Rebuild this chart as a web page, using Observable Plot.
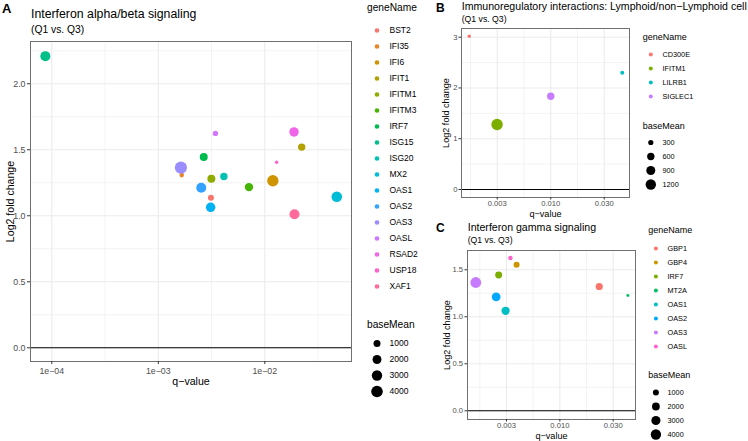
<!DOCTYPE html>
<html><head><meta charset="utf-8">
<script src="https://cdn.jsdelivr.net/npm/d3@7"></script>
<script src="https://cdn.jsdelivr.net/npm/@observablehq/plot@0.6"></script>
<style>
html,body{margin:0;padding:0;background:#fff;}
#fig{position:relative;width:748px;height:441px;overflow:hidden;font-family:"Liberation Sans",Arial,Helvetica,sans-serif;color:#000;}
.abs{position:absolute;white-space:nowrap;line-height:1;}
.abs svg{display:block;max-width:none;}
</style></head><body><div id="fig"></div>
<script>
// ---------- Panel A: Interferon alpha/beta signaling ----------
const genesA = ["BST2","IFI35","IFI6","IFIT1","IFITM1","IFITM3","IRF7","ISG15","ISG20","MX2","OAS1","OAS2","OAS3","OASL","RSAD2","USP18","XAF1"];
const qA = [3.12e-3, 1.66e-3, 0.0119, 0.0222, 3.15e-3, 7.1e-3, 2.67e-3, 8.7e-5, 4.13e-3, 0.0474, 3.1e-3, 2.53e-3, 1.63e-3, 3.44e-3, 0.0188, 0.0129, 0.0190];
const lfcA = [1.136, 1.308, 1.265, 1.520, 1.280, 1.217, 1.445, 2.209, 1.298, 1.144, 1.064, 1.212, 1.365, 1.624, 1.635, 1.406, 1.012];
const baseMeanA = [610, 230, 3800, 1180, 1450, 1700, 1480, 2730, 1180, 3180, 2320, 2730, 4500, 425, 2320, 50, 2730];

// ---------- Panel B: Immunoregulatory interactions ----------
const genesB = ["CD300E","IFITM1","LILRB1","SIGLEC1"];
const qB = [1.73e-3, 3.15e-3, 0.0466, 0.0100];
const lfcB = [3.018, 1.280, 2.297, 1.837];
const baseMeanB = [128, 1450, 178, 600];

// ---------- Panel C: Interferon gamma signaling ----------
const genesC = ["GBP1","GBP4","IRF7","MT2A","OAS1","OAS2","OAS3","OASL"];
const qC = [0.0234, 3.93e-3, 2.67e-3, 0.0434, 3.1e-3, 2.53e-3, 1.63e-3, 3.44e-3];
const lfcC = [1.322, 1.553, 1.445, 1.227, 1.064, 1.212, 1.365, 1.624];
const baseMeanC = [1640, 1000, 1480, 90, 2320, 2730, 4500, 425];

// ---------- ticks (x ticks given as log10 exponents) / legend breaks ----------
const xTickExpA = [-4, -3, -2];
const xTickLabelsA = ["1e\u221204", "1e\u221203", "1e\u221202"];
const xMinorExpA = [-3.5, -2.5, -1.5];
const yTicksA = [0, 0.5, 1, 1.5, 2];
const yTickLabelsA = ["0.0", "0.5", "1.0", "1.5", "2.0"];
const yMinorA = [0.25, 0.75, 1.25, 1.75, 2.25];

const xTickExpBC = [-2.5, -2, -1.5];
const xTickLabelsBC = ["0.003", "0.010", "0.030"];
const xMinorExpBC = [-2.75, -2.25, -1.75];
const yTicksB = [0, 1, 2, 3];
const yTickLabelsB = ["0", "1", "2", "3"];
const yMinorB = [0.5, 1.5, 2.5];
const yTicksC = [0, 0.5, 1, 1.5];
const yTickLabelsC = ["0.0", "0.5", "1.0", "1.5"];
const yMinorC = [0.25, 0.75, 1.25];

const sizeBreaksA = [1000, 2000, 3000, 4000];
const sizeBreaksB = [300, 600, 900, 1200];
const sizeBreaksC = [1000, 2000, 3000, 4000];

// ---------- colour palettes (ggplot hue) ----------
const paletteA = ["#F8766D","#E88526","#D09400","#B2A100","#8FAA00","#45B500","#00BB4E","#00C087","#00C1B2","#00BCD6","#00B2F3","#35A2FF","#9A8EFF","#D077FE","#F166E9","#FF61C9","#FF699C"];
const paletteB = ["#F8766D","#7CAE00","#00BFC4","#C77CFF"];
const paletteC = ["#F8766D","#CD9600","#7CAE00","#00BE67","#00BFC4","#00A9FF","#C77CFF","#FF61CC"];

const FONT = '"Liberation Sans", Arial, Helvetica, sans-serif';
const fig = document.getElementById("fig");

function rows(genes, q, lfc, bm) {
  return genes.map((g, i) => ({gene: g, q: q[i], lfc: lfc[i], baseMean: bm[i]}));
}
function place(node, left, top) {
  const d = document.createElement("div");
  d.className = "abs";
  d.style.left = left + "px";
  d.style.top = top + "px";
  d.appendChild(node);
  fig.appendChild(d);
  return d;
}
function label(text, left, baseline, size, opts = {}) {
  const d = document.createElement("div");
  d.className = "abs";
  d.textContent = text;
  d.style.left = left + "px";
  d.style.top = (baseline - 0.8465 * size) + "px";
  d.style.fontSize = size + "px";
  if (opts.bold) d.style.fontWeight = "bold";
  fig.appendChild(d);
}
function lookup(values, labels, v) {
  let best = 0, bd = Infinity;
  values.forEach((t, i) => { const dd = Math.abs(t - v); if (dd < bd) { bd = dd; best = i; } });
  return bd <= 1e-6 ? labels[best] : "";
}

// x is drawn on a log10 axis: the x scale works on log10(q-value)
function panel(o) {
  const grid = {stroke: "#EBEBEB", strokeOpacity: 1};
  return Plot.plot({
    width: o.width, height: o.height,
    marginLeft: o.ml, marginRight: o.mr, marginTop: o.mt, marginBottom: o.mb,
    style: {fontFamily: FONT, background: "transparent", overflow: "visible"},
    x: {type: "linear", domain: o.xDomain},
    y: {domain: o.yDomain},
    r: o.r,
    color: {domain: o.genes, range: o.palette},
    marks: [
      Plot.gridX(o.xMinorExp, {...grid, strokeWidth: 0.6}),
      Plot.gridY(o.yMinor, {...grid, strokeWidth: 0.6}),
      Plot.gridX(o.xExp, {...grid, strokeWidth: 1.1}),
      Plot.gridY(o.yTicks, {...grid, strokeWidth: 1.1}),
      Plot.ruleY([0], {stroke: "#000", strokeWidth: 1.1}),
      Plot.dot(o.data, {x: d => Math.log10(d.q), y: "lfc", r: "baseMean", fill: "gene", sort: null}),
      Plot.frame({stroke: "#707070", strokeWidth: 1}),
      Plot.axisX(o.xExp, {tickFormat: d => lookup(o.xExp, o.xLabels, d), tickSize: o.tickSize, tickPadding: o.xPad,
        fontSize: o.tickFont, stroke: "#333", fill: "#4D4D4D", label: null}),
      Plot.axisY(o.yTicks, {tickFormat: d => lookup(o.yTicks, o.yLabels, d), tickSize: o.tickSize, tickPadding: o.yPad,
        fontSize: o.tickFont, stroke: "#333", fill: "#4D4D4D", label: null}),
      Plot.text(["q\u2212value"], {text: d => d, frameAnchor: "bottom", dy: o.xTitleDy, textAnchor: "middle", lineAnchor: "middle",
        fontSize: o.titleFont, fill: "#000"}),
      Plot.text(["Log2 fold change"], {text: d => d, frameAnchor: "left", dx: o.yTitleDx, rotate: -90, textAnchor: "middle", lineAnchor: "middle",
        fontSize: o.titleFont, fill: "#000"})
    ]
  });
}

function colorLegend(genes, palette, step, dotDx, labelDx, r, fontSize, width) {
  return Plot.plot({
    width, height: genes.length * step, margin: 0,
    style: {fontFamily: FONT, background: "transparent", overflow: "visible"},
    y: {type: "point", domain: genes, axis: null},
    color: {domain: genes, range: palette},
    marks: [
      Plot.dot(genes, {y: d => d, fill: d => d, r, frameAnchor: "left", dx: dotDx}),
      Plot.text(genes, {y: d => d, text: d => d, frameAnchor: "left", dx: labelDx, textAnchor: "start", lineAnchor: "middle", fontSize, fill: "#000"})
    ]
  });
}
function sizeLegend(breaks, rOpts, step, dotDx, labelDx, fontSize, width) {
  return Plot.plot({
    width, height: breaks.length * step, margin: 0,
    style: {fontFamily: FONT, background: "transparent", overflow: "visible"},
    y: {type: "point", domain: breaks, axis: null},
    r: rOpts,
    marks: [
      Plot.dot(breaks, {y: d => d, r: d => d, fill: "#000", frameAnchor: "left", dx: dotDx}),
      Plot.text(breaks, {y: d => d, text: d => String(d), frameAnchor: "left", dx: labelDx, textAnchor: "start", lineAnchor: "middle", fontSize, fill: "#000"})
    ]
  });
}

// r scales
const rA = {type: "sqrt", domain: [0, 4000], range: [1.2, 5.8]};
const rB = {type: "sqrt", domain: [0, 1200], range: [0, 5.2]};
const rC = {type: "sqrt", domain: [0, 4000], range: [0.85, 5.15]};

// ---------- Panel A ----------
place(panel({
  data: rows(genesA, qA, lfcA, baseMeanA), genes: genesA, palette: paletteA,
  width: 360, height: 395, ml: 30, mr: 9, mt: 41, mb: 34,
  xDomain: [-4.2, -1.186], yDomain: [-0.1038, 2.32],
  xExp: xTickExpA, xLabels: xTickLabelsA, xMinorExp: xMinorExpA,
  yTicks: yTicksA, yLabels: yTickLabelsA, yMinor: yMinorA,
  r: rA, tickSize: 3, xPad: 3.5, yPad: 2, tickFont: 8.8, titleFont: 10.6,
  xTitleDy: 20, yTitleDx: -20
}), 0, 0);
label("A", 2, 13.3, 13, {bold: true});
label("Interferon alpha/beta signaling", 31, 18.3, 12.3);
label("(Q1 vs. Q3)", 31, 33.3, 10.3);
label("geneName", 367, 11.5, 10.2);
place(colorLegend(genesA, paletteA, 16.56, 9.5, 22, 2.3, 8.5, 80), 366.5, 25 - 16.56 / 2);
label("baseMean", 367, 329, 10.2);
place(sizeLegend(sizeBreaksA, rA, 16.4, 9.5, 22, 8.5, 80), 366.5, 342.3 - 16.4 / 2);

// ---------- Panel B ----------
place(panel({
  data: rows(genesB, qB, lfcB, baseMeanB), genes: genesB, palette: paletteB,
  width: 215, height: 220, ml: 41, mr: 6, mt: 28, mb: 23,
  xDomain: [-2.834, -1.264], yDomain: [-0.158, 3.171],
  xExp: xTickExpBC, xLabels: xTickLabelsBC, xMinorExp: xMinorExpBC,
  yTicks: yTicksB, yLabels: yTickLabelsB, yMinor: yMinorB,
  r: rB, tickSize: 2.5, xPad: 0.8, yPad: 1.5, tickFont: 7.6, titleFont: 9.1,
  xTitleDy: 16.5, yTitleDx: -15
}), 420, 0);
label("B", 436, 11.7, 12, {bold: true});
label("Immunoregulatory interactions: Lymphoid/non\u2212Lymphoid cell", 461.7, 10.4, 10.6);
label("(Q1 vs. Q3)", 461.7, 22.5, 8.7);
label("geneName", 642.7, 41, 9);
place(colorLegend(genesB, paletteB, 14.45, 7.3, 19, 2, 7.3, 80), 642.7, 53.3 - 14.45 / 2);
label("baseMean", 642.7, 129.3, 9);
place(sizeLegend(sizeBreaksB, rB, 14.1, 7.3, 19, 7.3, 80), 642.7, 141.7 - 14.1 / 2);

// ---------- Panel C ----------
place(panel({
  data: rows(genesC, qC, lfcC, baseMeanC), genes: genesC, palette: paletteC,
  width: 220, height: 221, ml: 47, mr: 5, mt: 30, mb: 22,
  xDomain: [-2.8655, -1.291], yDomain: [-0.0926, 1.705],
  xExp: xTickExpBC, xLabels: xTickLabelsBC, xMinorExp: xMinorExpBC,
  yTicks: yTicksC, yLabels: yTickLabelsC, yMinor: yMinorC,
  r: rC, tickSize: 2.5, xPad: 0.8, yPad: 2, tickFont: 7.6, titleFont: 9.1,
  xTitleDy: 16.3, yTitleDx: -20.3
}), 420, 220);
label("C", 436, 232.5, 12, {bold: true});
label("Interferon gamma signaling", 467.7, 230.7, 10.6);
label("(Q1 vs. Q3)", 467.7, 243.3, 8.7);
label("geneName", 648.3, 233.5, 9);
place(colorLegend(genesC, paletteC, 14.19, 7.4, 19, 2, 7.3, 80), 648.3, 246.7 - 14.19 / 2);
label("baseMean", 648.3, 379, 9);
place(sizeLegend(sizeBreaksC, rC, 14.1, 7.4, 19, 7.3, 80), 648.3, 392 - 14.1 / 2);
</script></body></html>
